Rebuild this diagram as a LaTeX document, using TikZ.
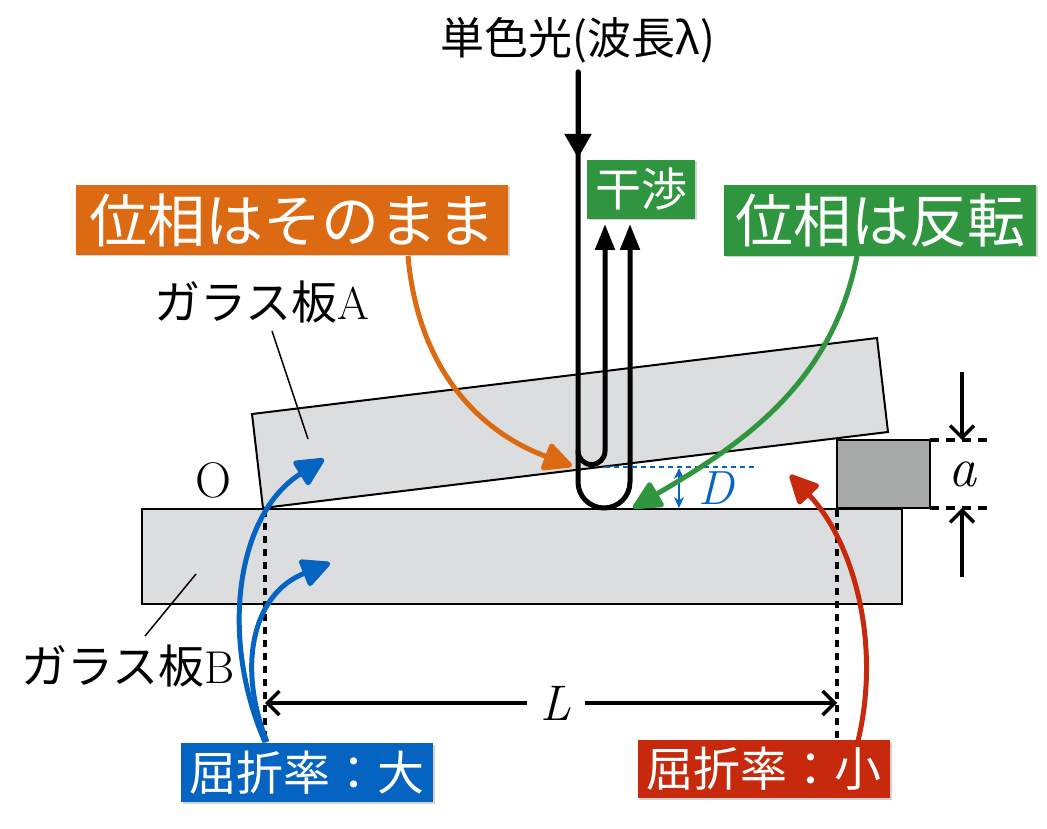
\documentclass[tikz,border=0pt]{standalone}
\usepackage{fontspec}
\newfontfamily\jp{Noto Sans CJK JP}
\usetikzlibrary{arrows.meta,shadows}
\definecolor{plate}{HTML}{DCDDDF}
\definecolor{blockgray}{HTML}{A8A9A9}
\definecolor{orangebox}{HTML}{DC6A12}
\definecolor{greenbox}{HTML}{2F953F}
\definecolor{bluebox}{HTML}{0563C1}
\definecolor{redbox}{HTML}{C7290C}
\tikzset{
  platebox/.style={fill=plate,draw=black,line width=2},
  labelbox/.style={inner sep=0pt,text=white,font=\jp,drop shadow={shadow xshift=1.5pt,shadow yshift=-1.5pt,opacity=0.35}},
  ray/.style={line width=5,line cap=round},
  crayon/.style={line width=5,-{Triangle[length=32pt,width=30pt,round]}},
  dotv/.style={line width=3.5,dash pattern=on 7pt off 6pt},
  dim/.style={line width=3.5,{Straight Barb[length=12pt,width=24pt]}-{Straight Barb[length=12pt,width=24pt]}},
  leader/.style={line width=1.5},
}
\begin{document}
\begin{tikzpicture}[x=1pt,y=-1pt]
\useasboundingbox (0,0) rectangle (1047,829);
% plates
\draw[platebox] (142,509) rectangle (902,604);
\draw[platebox] (263,508) -- (252,414) -- (877,338) -- (888,432) -- cycle;
\draw[line width=2,fill=blockgray] (837,440) rectangle (930,508);
\node (O) at (213,480) {\fontsize{50}{50}\selectfont O};
% title and rays
\node (title) at (578,40) {\jp\fontsize{44}{44}\selectfont 単色光(波長λ)};
\coordinate (src) at (578,72);
\coordinate (midA) at (578,158);
\coordinate (outTop) at (630,224);
\coordinate (inTop) at (605,224);
\draw[ray,-{Triangle[length=24pt,width=26pt]}] (src) -- (midA);
\draw[ray,-{Triangle[length=26pt,width=19pt]}] (src) -- (578,482) arc[start angle=180,end angle=0,radius=26] -- (outTop);
\draw[ray,-{Triangle[length=26pt,width=19pt]}] (578,451) arc[start angle=180,end angle=0,radius=13.5] -- (inTop);
% D
\coordinate (Dl) at (605,467);
\coordinate (Dr) at (758,467);
\draw[bluebox,line width=2,dash pattern=on 5pt off 4pt] (Dl) -- (Dr);
\coordinate (Dt) at (679,468);
\coordinate (Db) at (679,508);
\draw[bluebox,line width=2.5,{Stealth[length=11pt,width=10pt]}-{Stealth[length=11pt,width=10pt]}] (Dt) -- (Db);
\node[text=bluebox] (D) at (716,488) {\fontsize{48}{48}\selectfont\itshape D};
% a
\draw[line width=3.5,dash pattern=on 9pt off 7pt] (930,440) -- (988,440);
\draw[line width=3.5,dash pattern=on 9pt off 7pt] (930,508) -- (988,508);
\coordinate (a1) at (962,372);
\coordinate (a2) at (962,440);
\coordinate (a3) at (962,577);
\coordinate (a4) at (962,508);
\draw[line width=3.5,-{Straight Barb[length=12pt,width=24pt]}] (a1) -- (a2);
\draw[line width=3.5,-{Straight Barb[length=12pt,width=24pt]}] (a3) -- (a4);
\node (a) at (962,474) {\fontsize{56}{56}\selectfont\itshape a};
% L
\draw[dotv] (265,510) -- (265,740);
\draw[dotv] (837,510) -- (837,740);
\coordinate (Ll) at (265,703);
\coordinate (Lr) at (837,703);
\draw[dim] (Ll) -- (Lr);
\node[fill=white,inner xsep=14pt] (L) at (556,703) {\fontsize{50}{50}\selectfont\itshape L};
% labels
\node (gA) at (262,302) {\fontsize{46}{46}\selectfont{\jp ガラス板}A};
\node (gB) at (128,666) {\fontsize{46}{46}\selectfont{\jp ガラス板}B};
\draw[leader] (272,331) -- (308,439);
\draw[leader] (145,636) -- (196,574);
% boxes
\node[labelbox,fill=orangebox,minimum width=432,minimum height=70] (phase0) at (292,220) {\fontsize{58}{58}\selectfont 位相はそのまま};
\node[labelbox,fill=greenbox,minimum width=312,minimum height=71] (phase1) at (880,220.5) {\fontsize{58}{58}\selectfont 位相は反転};
\node[labelbox,fill=greenbox,minimum width=108,minimum height=59] (kan) at (641,189.5) {\fontsize{46}{46}\selectfont 干渉};
\node[labelbox,fill=bluebox,minimum width=252,minimum height=59] (big) at (307,772.5) {\fontsize{47}{47}\selectfont 屈折率：大};
\node[labelbox,fill=redbox,minimum width=252,minimum height=58] (small) at (764,769) {\fontsize{47}{47}\selectfont 屈折率：小};
% crayon arrows
\coordinate (oTip) at (572,466);
\coordinate (gTip) at (633,508);
\coordinate (b1Tip) at (324,459);
\coordinate (b2Tip) at (330,563);
\coordinate (rTip) at (790,475);
\draw[crayon,orangebox] (408,256) .. controls (418,370) and (480,432) .. (oTip);
\draw[crayon,greenbox] (857,256) .. controls (832,385) and (740,445) .. (gTip);
\draw[crayon,bluebox] (265,742) .. controls (220,640) and (235,515) .. (b1Tip);
\draw[crayon,bluebox] (267,742) .. controls (238,670) and (250,595) .. (b2Tip);
\draw[crayon,redbox] (858,741) .. controls (882,640) and (852,540) .. (rTip);
\end{tikzpicture}
\end{document}
